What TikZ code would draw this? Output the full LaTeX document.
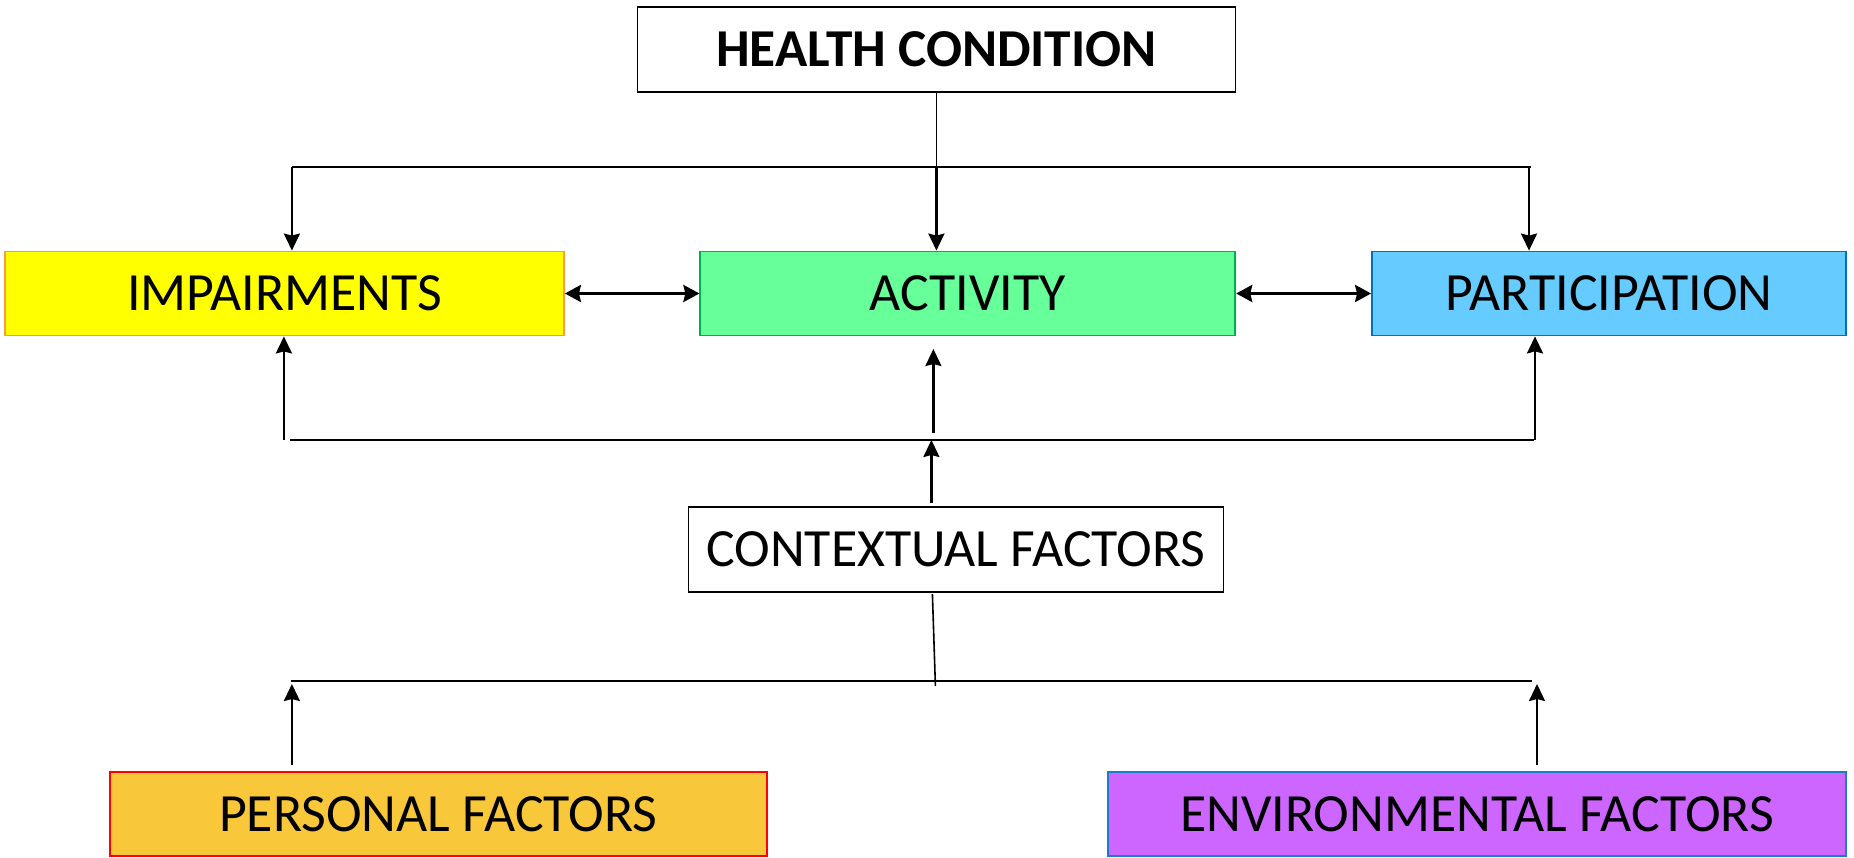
\documentclass[tikz,border=0pt]{standalone}
\usepackage{fontspec}
\setmainfont{Carlito}
\usetikzlibrary{arrows.meta}

\definecolor{impfill}{HTML}{FFFF00}
\definecolor{impline}{HTML}{FF9A3C}
\definecolor{actfill}{HTML}{66FF99}
\definecolor{actline}{HTML}{00B050}
\definecolor{parfill}{HTML}{66CCFF}
\definecolor{parline}{HTML}{0070C0}
\definecolor{perfill}{HTML}{F9C73A}
\definecolor{perline}{HTML}{FF0000}
\definecolor{envfill}{HTML}{CC66FF}
\definecolor{envline}{HTML}{1C7CC8}

\tikzset{
  box/.style={draw, line width=1.8pt, rectangle, inner sep=0pt,
    minimum height=84pt, font=\fontsize{53.8}{60}\selectfont},
  link/.style={line width=2.4pt},
  thinlink/.style={line width=1.2pt},
  arr/.style={link, -{Stealth[length=17pt,width=16pt,inset=2pt]}},
  darr/.style={line width=3.2pt, {Stealth[length=16pt,width=17pt,inset=2pt]}-{Stealth[length=16pt,width=17pt,inset=2pt]}},
}

\begin{document}
\begin{tikzpicture}[x=1pt,y=-1pt]
\useasboundingbox (0,0) rectangle (1854,858);

% boxes
\node[box, minimum width=598pt, minimum height=85pt, font=\fontsize{53.3}{60}\selectfont\bfseries]
  (hc) at (936.4,49.5) {HEALTH CONDITION};
\node[box, minimum width=559pt, draw=impline, fill=impfill] (imp) at (284.5,293.5) {IMPAIRMENTS};
\node[box, minimum width=535pt, draw=actline, fill=actfill] (act) at (967.8,293.5) {ACTIVITY};
\node[box, minimum width=474pt, draw=parline, fill=parfill] (par) at (1609,293.5) {PARTICIPATION};
\node[box, minimum width=535pt, minimum height=85pt] (cf) at (955.9,549.5) {CONTEXTUAL FACTORS};
\node[box, minimum width=657pt, draw=perline, fill=perfill] (per) at (438.3,814) {PERSONAL FACTORS};
\node[box, minimum width=738pt, draw=envline, fill=envfill] (env) at (1477,814) {ENVIRONMENTAL FACTORS};

% health condition feeding the three components
\coordinate (tl) at (291.9,167);
\coordinate (tm) at (936.4,167);
\coordinate (tr) at (1531,167);
\coordinate (tr2) at (1529,167);
\draw[thinlink] (hc.south) -- (tm);
\draw[link] (tl) -- (tr);
\draw[arr] (tl) -- (tl |- imp.north);
\draw[arr] (tm) -- (tm |- act.north);
\draw[arr] (tr2) -- (tr2 |- par.north);

% interactions between components
\draw[darr] (imp.east) -- (act.west);
\draw[darr] (act.east) -- (par.west);

% contextual factors acting on the components
\coordinate (ml) at (283.9,440);
\coordinate (mbl) at (289.9,440);
\coordinate (mbr) at (1534,440);
\coordinate (mr) at (1535,440);
\coordinate (mc) at (933.4,433);
\coordinate (mct) at (933.4,349);
\coordinate (cup) at (931.4,503);
\coordinate (cupt) at (931.4,440);
\draw[link] (mbl) -- (mbr);
\draw[arr] (ml) -- (ml |- imp.south);
\draw[arr] (mr) -- (mr |- par.south);
\draw[arr] (mc) -- (mct);
\draw[arr] (cup) -- (cupt);

% personal and environmental factors
\coordinate (cd) at (932.4,594);
\coordinate (cb) at (935.4,686);
\coordinate (bl) at (290.9,681);
\coordinate (br) at (1532,681);
\coordinate (pl) at (291.9,765);
\coordinate (plt) at (291.9,684);
\coordinate (pr) at (1537,765);
\coordinate (prt) at (1537,684);
\draw[line width=1.6pt] (cd) -- (cb);
\draw[link] (bl) -- (br);
\draw[arr] (pl) -- (plt);
\draw[arr] (pr) -- (prt);
\end{tikzpicture}
\end{document}
